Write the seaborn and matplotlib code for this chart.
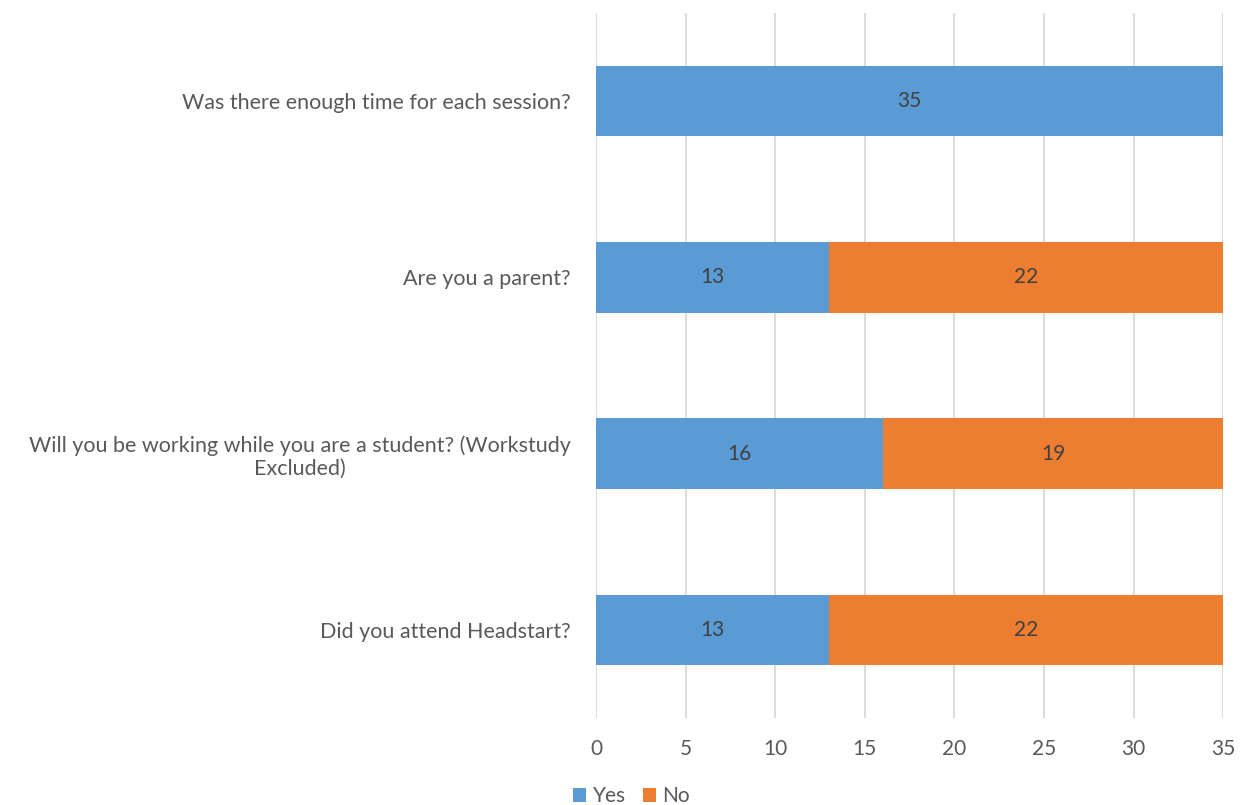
import pandas as pd
import matplotlib.pyplot as plt
import seaborn as sns

# --- DATOS ---
questions = [
    'Was there enough time for each session?',
    'Are you a parent?',
    'Will you be working while you are a student? (Workstudy\nExcluded)',
    'Did you attend Headstart?',
]
yes_counts = [35, 13, 16, 13]
no_counts = [0, 22, 19, 22]

BLUE = '#5B9BD5'
ORANGE = '#ED7D31'
TEXT = '#595959'
GRID = '#D9D9D9'


def main():
    sns.set_theme(style="white")
    plt.rcParams['font.family'] = ['Lato', 'DejaVu Sans']

    df = pd.DataFrame({'question': questions, 'yes': yes_counts, 'no': no_counts})
    df['total'] = df['yes'] + df['no']

    fig = plt.figure(figsize=(12.43, 8.05), dpi=100)
    ax = fig.add_axes([0.4795, 0.108, 0.5045, 0.876])

    # apilado: total (naranja) detras, yes (azul) encima
    sns.barplot(data=df, x='total', y='question', color=ORANGE, width=0.4,
                saturation=1, orient='h', ax=ax, label='No', linewidth=0)
    sns.barplot(data=df, x='yes', y='question', color=BLUE, width=0.4,
                saturation=1, orient='h', ax=ax, label='Yes', linewidth=0)
    if ax.get_legend() is not None:
        ax.get_legend().remove()

    # etiquetas de valores
    for i, row in df.iterrows():
        if row['yes'] > 0:
            ax.text(row['yes'] / 2, i, str(row['yes']), ha='center', va='center',
                    fontsize=15, color='#404040')
        if row['no'] > 0:
            ax.text(row['yes'] + row['no'] / 2, i, str(row['no']), ha='center',
                    va='center', fontsize=15, color='#404040')

    ax.set_xlim(0, 35)
    ax.set_xticks(range(0, 36, 5))
    ax.set_ylim(3.5, -0.5)
    ax.grid(axis='x', color=GRID, linewidth=1.3)
    ax.set_axisbelow(True)
    for s in ax.spines.values():
        s.set_visible(False)
    ax.set_xlabel('')
    ax.set_ylabel('')
    ax.tick_params(axis='x', colors=TEXT, labelsize=15, length=0, pad=15)
    ax.tick_params(axis='y', colors=TEXT, labelsize=15.5, length=0, pad=18)
    for lbl in ax.get_yticklabels():
        lbl.set_multialignment('center')

    handles, labels = ax.get_legend_handles_labels()
    order = [labels.index('Yes'), labels.index('No')]
    fig.legend([handles[i] for i in order], [labels[i] for i in order],
               loc='lower center', bbox_to_anchor=(0.508, -0.025), ncol=2,
               frameon=False, fontsize=15, handlelength=0.65, handleheight=0.65,
               handletextpad=0.3, columnspacing=0.8, labelcolor=TEXT)

    plt.savefig('out.png', dpi=100)
    plt.close()


if __name__ == "__main__":
    main()
